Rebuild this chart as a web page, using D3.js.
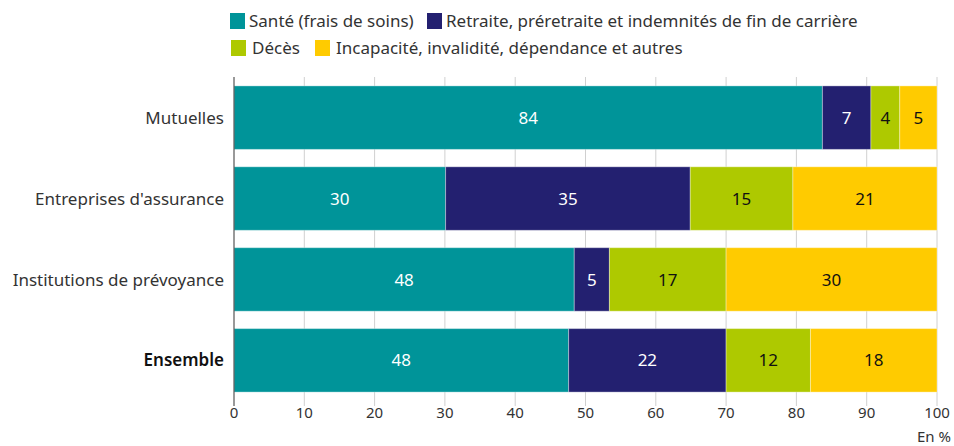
<!DOCTYPE html>
<html>
<head>
<meta charset="utf-8">
<script src="https://cdn.jsdelivr.net/npm/d3@7"></script>
<style>
  body { margin: 0; background: #fff; }
  svg { font-family: "Noto Sans", sans-serif; }
</style>
</head>
<body>
<div id="chart"></div>
<script>
// categories (top to bottom)
const categories = ["Mutuelles", "Entreprises d'assurance", "Institutions de prévoyance", "Ensemble"];
const seriesNames = ["Santé (frais de soins)", "Retraite, préretraite et indemnités de fin de carrière", "Décès", "Incapacité, invalidité, dépendance et autres"];
// shares in % per category, same order as categories
const sante = [83.7, 30.1, 48.4, 47.6];
const retraite = [6.9, 34.8, 5.0, 22.4];
const deces = [4.1, 14.6, 16.6, 12.0];
const incapacite = [5.3, 20.5, 30.0, 18.0];
const xTicks = [0, 10, 20, 30, 40, 50, 60, 70, 80, 90, 100];

const colors = ["#009499", "#232070", "#aec900", "#ffcb00"];
const textColors = ["#fff", "#fff", "#111", "#111"];

const width = 954, height = 446;
const margin = {top: 77, right: 17, bottom: 45, left: 234};

const svg = d3.select("#chart").append("svg")
  .attr("width", width)
  .attr("height", height);

// build rows for d3.stack
const keys = ["sante", "retraite", "deces", "incapacite"];
const rows = categories.map((c, i) => ({
  cat: c, sante: sante[i], retraite: retraite[i], deces: deces[i], incapacite: incapacite[i]
}));
const stacked = d3.stack().keys(keys)(rows);

const x = d3.scaleLinear().domain([0, 100]).range([margin.left, width - margin.right]);
const y = d3.scaleBand().domain(categories).range([margin.top, height - margin.bottom]).paddingInner(0.215).paddingOuter(0.11);

// grid lines + ticks
const gx = svg.append("g");
gx.selectAll("line.grid")
  .data(xTicks.slice(1))
  .join("line")
  .attr("class", "grid")
  .attr("x1", d => x(d)).attr("x2", d => x(d))
  .attr("y1", margin.top).attr("y2", height - margin.bottom + 5)
  .attr("stroke", "#d0d0d0").attr("stroke-width", 1);

gx.selectAll("text.tick")
  .data(xTicks)
  .join("text")
  .attr("class", "tick")
  .attr("x", d => x(d))
  .attr("y", 418)
  .attr("text-anchor", "middle")
  .attr("font-size", 15)
  .attr("fill", "#333")
  .text(d => d);

svg.append("text")
  .attr("x", 951).attr("y", 442)
  .attr("text-anchor", "end")
  .attr("font-size", 15)
  .attr("fill", "#333")
  .text("En %");

// bars
const layer = svg.append("g").selectAll("g")
  .data(stacked)
  .join("g")
  .attr("fill", (d, i) => colors[i]);

layer.selectAll("rect")
  .data(d => d)
  .join("rect")
  .attr("x", d => x(d[0]))
  .attr("width", d => x(d[1]) - x(d[0]))
  .attr("y", d => y(d.data.cat))
  .attr("height", y.bandwidth())
  .attr("stroke", "#fff").attr("stroke-opacity", 0.35).attr("stroke-width", 1);

// value labels
stacked.forEach((s, i) => {
  svg.append("g").selectAll("text")
    .data(s)
    .join("text")
    .attr("x", d => (x(d[0]) + x(d[1])) / 2)
    .attr("y", d => y(d.data.cat) + y.bandwidth() / 2)
    .attr("dy", "0.36em")
    .attr("text-anchor", "middle")
    .attr("font-size", 17)
    .attr("fill", textColors[i])
    .text(d => Math.round(d[1] - d[0]));
});

// y axis line
svg.append("line")
  .attr("x1", x(0)).attr("x2", x(0))
  .attr("y1", margin.top).attr("y2", height - margin.bottom + 5)
  .attr("stroke", "#555").attr("stroke-width", 1.2);

// category labels
svg.append("g").selectAll("text")
  .data(categories)
  .join("text")
  .attr("x", margin.left - 10)
  .attr("y", d => y(d) + y.bandwidth() / 2)
  .attr("dy", "0.36em")
  .attr("text-anchor", "end")
  .attr("font-size", 17)
  .attr("font-weight", d => d === "Ensemble" ? 600 : 400)
  .attr("fill", d => d === "Ensemble" ? "#111" : "#333")
  .text(d => d);

// legend
const legendPos = [[230, 13], [427, 13], [231, 40], [315, 40]];
const leg = svg.append("g").selectAll("g")
  .data(seriesNames)
  .join("g")
  .attr("transform", (d, i) => `translate(${legendPos[i][0]},${legendPos[i][1]})`);
leg.append("rect")
  .attr("width", 15).attr("height", 16)
  .attr("fill", (d, i) => colors[i]);
leg.append("text")
  .attr("x", (d, i) => i === 2 || i === 3 ? 21 : 19)
  .attr("y", 8)
  .attr("dy", "0.36em")
  .attr("font-size", 17)
  .attr("fill", "#333")
  .text(d => d);
</script>
</body>
</html>
